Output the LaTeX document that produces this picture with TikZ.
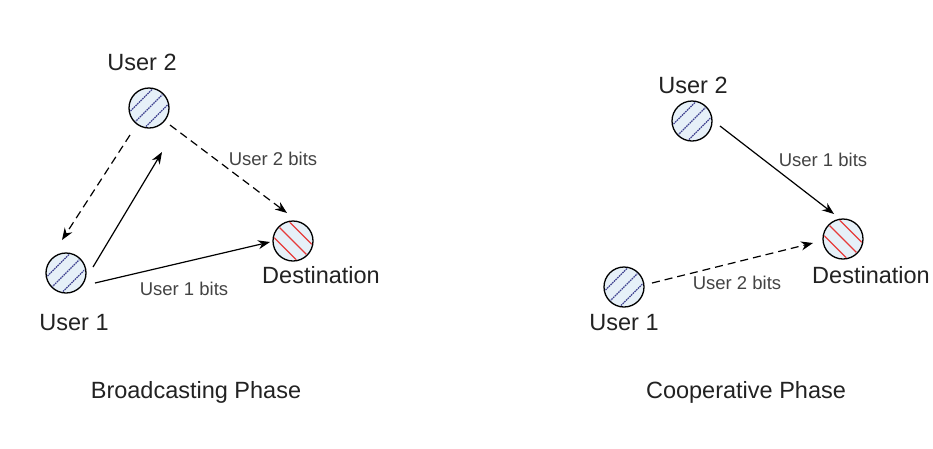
\documentclass[tikz,border=0pt]{standalone}
\usepackage{fontspec}
\setmainfont{Liberation Sans}
\usetikzlibrary{arrows.meta,calc}
\definecolor{fillblue}{HTML}{E6F0F8}
\definecolor{hatchblue}{HTML}{3C3F8E}
\definecolor{hatchred}{HTML}{E63A3A}
\definecolor{txt}{HTML}{222222}
\tikzset{
  station/.style={circle, draw=black, line width=1.3pt, fill=fillblue, minimum size=40pt, inner sep=0pt},
  bigtext/.style={font=\fontsize{23.5}{26}\selectfont, text=txt, inner sep=0pt},
  smalltext/.style={font=\fontsize{18.5}{21}\selectfont, text=txt!85, inner sep=0pt},
  phasetext/.style={font=\fontsize{23.5}{26}\selectfont, text=txt, inner sep=0pt},
  solidarrow/.style={line width=1.2pt, -{Stealth[length=12pt,width=9pt]}},
  dashedarrow/.style={line width=1.2pt, dash pattern=on 8pt off 5pt, -{Stealth[length=12pt,width=9pt]}},
}
\newcommand{\hatchup}[2]{%
  \begin{scope}
    \clip (#1.center) circle[radius=19pt];
    \foreach \o in {-11,0,11} {
      \draw[#2, line width=1.2pt, dash pattern=on 1.6pt off 0.8pt]
        ($(#1.center)+(\o*0.707,\o*0.707)+(-21,21)$) -- ($(#1.center)+(\o*0.707,\o*0.707)+(21,-21)$);
    }
  \end{scope}}
\newcommand{\hatchdown}[2]{%
  \begin{scope}
    \clip (#1.center) circle[radius=19pt];
    \foreach \o in {-11,0,11} {
      \draw[#2, line width=1.2pt]
        ($(#1.center)+(\o*0.707,-\o*0.707)+(-21,-21)$) -- ($(#1.center)+(\o*0.707,-\o*0.707)+(21,21)$);
    }
  \end{scope}}
\begin{document}
\begin{tikzpicture}[x=1pt,y=-1pt]
\useasboundingbox (0,0) rectangle (933,448);
% ---------- Broadcasting phase ----------
\node[station] (bu2) at (149,108) {};
\node[station] (bu1) at (66,273) {};
\node[station] (bd)  at (293,241) {};
\hatchup{bu2}{hatchblue}
\hatchup{bu1}{hatchblue}
\hatchdown{bd}{hatchred}
\node[bigtext] (bu2l) at (142,62) {User 2};
\node[bigtext] (bu1l) at (74,323) {User 1};
\node[bigtext] (bdl)  at (321,275) {Destination};
\draw[dashedarrow] ($(bu2)+(-19,27)$) -- ($(bu1)+(-4,-33)$);
\draw[solidarrow]  ($(bu1)+(27,-6)$) -- ($(bu2)+(13,44)$);
\draw[dashedarrow] ($(bu2)+(21,17)$) -- ($(bd)+(-6,-28)$);
\draw[solidarrow]  ($(bu1)+(29,10)$) -- ($(bd)+(-23,1)$);
\node[smalltext] (bl2) at (273,159) {User 2 bits};
\node[smalltext] (bl1) at (184,289) {User 1 bits};
\node[phasetext] (bphase) at (196,392) {Broadcasting Phase};
% ---------- Cooperative phase ----------
\node[station] (cu2) at (692,121) {};
\node[station] (cu1) at (624,287) {};
\node[station] (cd)  at (843,239) {};
\hatchup{cu2}{hatchblue}
\hatchup{cu1}{hatchblue}
\hatchdown{cd}{hatchred}
\node[bigtext] (cu2l) at (693,85) {User 2};
\node[bigtext] (cu1l) at (624,323) {User 1};
\node[bigtext] (cdl)  at (871,275) {Destination};
\draw[solidarrow]  ($(cu2)+(28,5)$) -- ($(cd)+(-9,-25)$);
\draw[dashedarrow] ($(cu1)+(28,-4)$) -- ($(cd)+(-30,4)$);
\node[smalltext] (cl1) at (823,160) {User 1 bits};
\node[smalltext] (cl2) at (737,283) {User 2 bits};
\node[phasetext] (cphase) at (746,392) {Cooperative Phase};
\end{tikzpicture}
\end{document}
